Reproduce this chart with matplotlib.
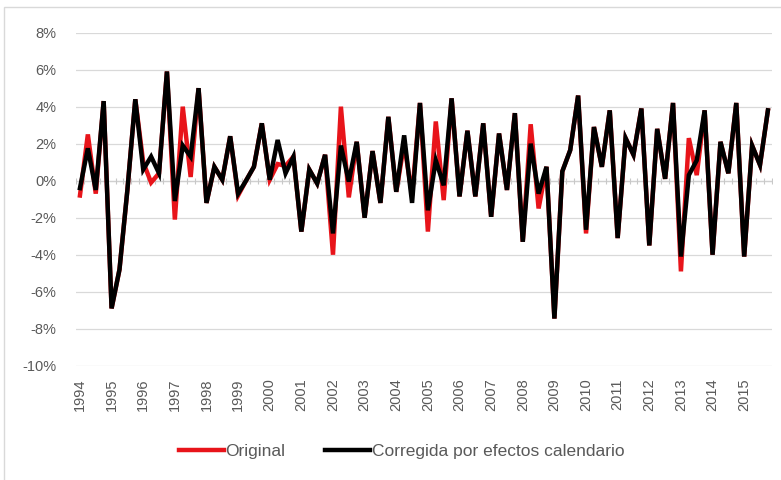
import numpy as np
import matplotlib.pyplot as plt
from matplotlib.patches import Rectangle

years = list(range(1994, 2016))

# quarterly growth, % (1994Q1 .. 2015Q4)
corregida = [-0.4, 1.75, -0.5, 4.3, -6.9, -4.8, -0.5, 4.4,
             0.6, 1.3, 0.4, 5.9, -1.1, 1.9, 1.3, 5.0,
             -1.2, 0.75, 0.05, 2.4, -0.7, 0.0, 0.75, 3.1,
             0.05, 2.2, 0.4, 1.3, -2.75, 0.6, -0.15, 1.4,
             -2.85, 1.9, -0.05, 2.1, -2.0, 1.6, -1.2, 3.45,
             -0.6, 2.45, -1.2, 4.2, -1.6, 1.1, -0.25, 4.45,
             -0.85, 2.7, -0.85, 3.1, -1.95, 2.55, -0.5, 3.65,
             -3.3, 2.0, -0.7, 0.75, -7.45, 0.5, 1.65, 4.6,
             -2.65, 2.9, 0.75, 3.8, -3.1, 2.3, 1.4, 3.9,
             -3.5, 2.8, 0.1, 4.2, -4.1, 0.3, 1.1, 3.8,
             -4.0, 2.1, 0.4, 4.2, -4.1, 1.9, 0.85, 3.8]

original = [-0.8, 2.5, -0.7, 4.3, -6.9, -4.8, -0.5, 4.4,
            1.0, -0.1, 0.4, 5.9, -2.1, 4.0, 0.2, 5.0,
            -1.2, 0.75, 0.05, 2.4, -0.8, 0.0, 0.75, 3.1,
            0.05, 0.9, 0.8, 1.3, -2.75, 0.6, -0.15, 1.4,
            -4.0, 4.0, -0.9, 2.1, -2.0, 1.6, -1.2, 3.45,
            -0.6, 2.0, -0.8, 4.2, -2.75, 3.2, -1.05, 4.45,
            -0.85, 2.7, -0.85, 3.1, -1.95, 2.55, -0.5, 3.65,
            -3.3, 3.05, -1.5, 0.75, -7.45, 0.5, 1.65, 4.6,
            -2.85, 2.9, 0.75, 3.8, -3.1, 2.3, 1.4, 3.9,
            -3.5, 2.8, 0.1, 4.2, -4.9, 2.3, 0.3, 3.8,
            -4.0, 2.1, 0.4, 4.2, -4.1, 1.9, 0.85, 3.8]

plt.rcParams['font.family'] = ['Liberation Sans', 'DejaVu Sans']
grey = '#595959'

fig = plt.figure(figsize=(7.81, 4.8), dpi=100)
fig.patches.append(Rectangle((4 / 781, -0.01), 1.0, 1.01 - 7 / 480,
                             transform=fig.transFigure, fill=False,
                             edgecolor='#d9d9d9', lw=1))
ax = fig.add_axes([0.0973, 0.238, 0.891, 0.694])

x = np.arange(len(corregida))
ax.plot(x, original, color='#e8141a', lw=3.2, label='Original', solid_joinstyle='miter')
ax.plot(x, corregida, color='black', lw=3.2, label='Corregida por efectos calendario',
        solid_joinstyle='miter')

ax.set_xlim(-0.5, len(x) - 0.5)
ax.set_ylim(-10, 8)
ax.set_yticks(np.arange(-10, 9, 2))
ax.set_yticklabels([f'{v}%' for v in range(-10, 9, 2)])
ax.yaxis.grid(True, color='#d9d9d9', lw=0.9)
ax.set_axisbelow(True)

ax.set_xticks(x[::4])
ax.set_xticklabels([str(y) for y in years], rotation=90)
ax.tick_params(axis='x', length=0, pad=9, labelsize=10.5, labelcolor=grey)
ax.tick_params(axis='y', length=0, pad=14, labelsize=10.5, labelcolor=grey)

for s in ax.spines.values():
    s.set_visible(False)

# horizontal axis line at 0 with quarter tick marks
ax.axhline(0, color='#d0d0d0', lw=0.9, zorder=1)
ax.plot(np.arange(-0.5, len(x), 1), np.zeros(len(x) + 1), ls='none', marker='|',
        ms=5, mew=0.8, color='#c8c8c8', zorder=1)

ax.legend(loc='center', bbox_to_anchor=(0.468, -0.258), ncol=2, frameon=False,
          fontsize=12.5, handlelength=2.6, handletextpad=0.1, columnspacing=2.3,
          labelcolor=grey)

fig.savefig('out.png', dpi=100)
